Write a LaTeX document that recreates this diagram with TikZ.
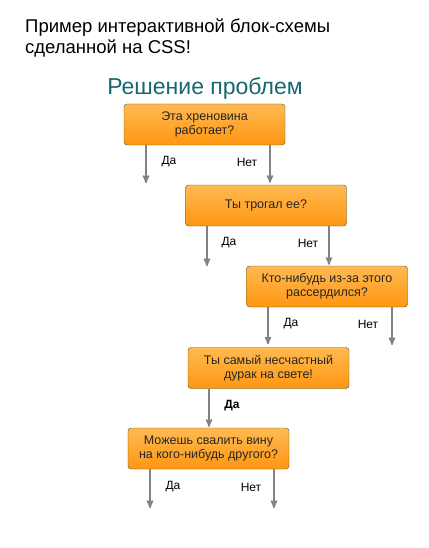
\documentclass[tikz,border=0pt]{standalone}
\usepackage{fontspec}
\setmainfont{Liberation Sans}
\usetikzlibrary{arrows}
\definecolor{boxborder}{RGB}{72,88,40}
\definecolor{boxtop}{RGB}{255,186,82}
\definecolor{boxbottom}{RGB}{255,150,18}
\definecolor{headteal}{RGB}{22,104,112}
\definecolor{linkgray}{RGB}{130,130,130}
\begin{document}
\begin{tikzpicture}[x=1pt,y=-1pt,->,>=stealth',shorten >=0pt,
                    main node/.style={rectangle,rounded corners=3pt,draw=boxborder,
                      top color=boxtop,bottom color=boxbottom,minimum width=161pt,
                      minimum height=41pt,align=center,text=black!85,
                      font=\fontsize{12.5}{14}\selectfont},
                    answer/.style={font=\fontsize{12}{14}\selectfont,text=black}]
  \useasboundingbox (0,0) rectangle (428,548);

  \node[anchor=north west,align=left,inner sep=0pt,font=\fontsize{18.5}{21}\selectfont] (title) at (25,19)
    {Пример интерактивной блок-схемы\\сделанной на CSS!};
  \node[anchor=base,text=headteal,font=\fontsize{23}{26}\selectfont] (heading) at (205,95) {Решение проблем};

  \node[main node] (q1) at (204.5,124.5) {Эта хреновина\\работает?};
  \node[main node] (q2) at (266,205.5) {Ты трогал ее?};
  \node[main node] (q3) at (327,286.5) {Кто-нибудь из-за этого\\рассердился?};
  \node[main node] (q4) at (268.5,368) {Ты самый несчастный\\дурак на свете!};
  \node[main node] (q5) at (208.5,448.5) {Можешь свалить вину\\на кого-нибудь другого?};

  \coordinate (q1yes) at (146,183);
  \coordinate (q2yes) at (207,266);
  \coordinate (q3no) at (392,345);
  \coordinate (q5yes) at (150,508);
  \coordinate (q5no) at (274,508);

  \node[answer] (q1yesl) at (169,162) {Да};
  \node[answer] (q1nol) at (247,162) {Нет};
  \node[answer] (q2yesl) at (229,243) {Да};
  \node[answer] (q2nol) at (308,243) {Нет};
  \node[answer] (q3yesl) at (291,324) {Да};
  \node[answer] (q3nol) at (368,324) {Нет};
  \node[answer,font=\fontsize{12}{14}\selectfont\bfseries] (q4yesl) at (232,406) {Да};
  \node[answer] (q5yesl) at (173,487) {Да};
  \node[answer] (q5nol) at (251,487) {Нет};

  \path[color=linkgray,line width=1.6pt]
    (q1.south -| q1yes) edge (q1yes)
    ([xshift=65.5pt]q1.south) edge[shorten >=2pt] ([xshift=65.5pt]q1.south |- q2.north)

    (q2.south -| q2yes) edge (q2yes)
    ([xshift=63pt]q2.south) edge[shorten >=1pt] ([xshift=63pt]q2.south |- q3.north)

    ([xshift=-59pt]q3.south) edge[shorten >=3pt] ([xshift=-59pt]q3.south |- q4.north)
    (q3.south -| q3no) edge (q3no)

    ([xshift=-59.5pt]q4.south) edge[shorten >=1pt] ([xshift=-59.5pt]q4.south |- q5.north)

    (q5.south -| q5yes) edge (q5yes)
    (q5.south -| q5no) edge (q5no)
;
\end{tikzpicture}
\end{document}
